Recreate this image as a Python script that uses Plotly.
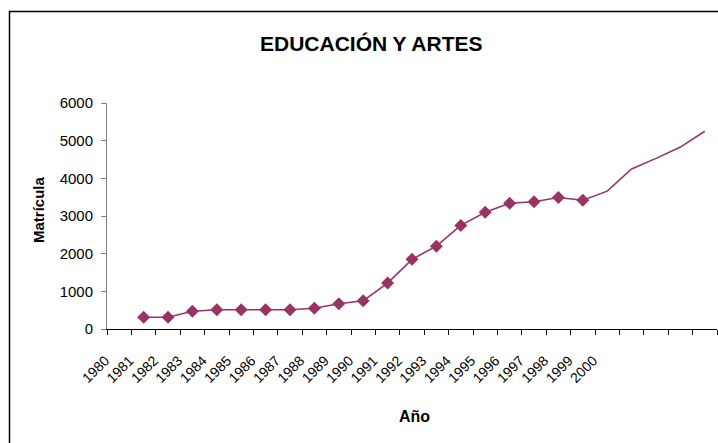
import plotly.graph_objects as go

# Category labels (21 labelled years + 4 unlabelled trailing categories)
year_labels = [str(y) for y in range(1980, 2001)]
extra_labels = [" ", "  ", "   ", "    "]
categories = year_labels + extra_labels

# Matrícula values per category (1980 empty)
matricula = [None, 310, 310, 470, 510, 510, 510, 510, 550, 670, 750, 1220,
             1850, 2200, 2750, 3100, 3340, 3380, 3490, 3420,
             3660, 4250, 4530, 4830, 5250]
marked_count = 20  # categories 1980..1999 carry diamond markers

color = "#993366"
font_family = "Liberation Sans, Arial, sans-serif"

fig = go.Figure()
fig.add_trace(go.Scatter(
    x=categories, y=matricula, mode="lines",
    line=dict(color=color, width=1.6), connectgaps=False,
    hoverinfo="skip", showlegend=False))
fig.add_trace(go.Scatter(
    x=categories[:marked_count], y=matricula[:marked_count], mode="markers",
    marker=dict(symbol="diamond", size=10, color=color),
    showlegend=False))

W, H = 718, 443
L, R, T, B = 107, 1, 103, 114
pw = W - L - R
ph = H - T - B

def px_x(x):
    return (x - L) / pw

def px_y(y):
    return (H - B - y) / ph

fig.update_layout(
    width=W, height=H,
    margin=dict(l=L, r=R, t=T, b=B),
    paper_bgcolor="white", plot_bgcolor="white",
    font=dict(family=font_family, color="black", size=14),
    xaxis=dict(
        type="category", categoryorder="array", categoryarray=categories,
        range=[-0.5, len(categories) - 0.5],
        tickson="boundaries", ticks="outside", ticklen=5, tickcolor="black",
        tickangle=-45, tickfont=dict(size=14),
        ticklabelstandoff=17, ticklabelshift=-14,
        showline=True, linecolor="black", linewidth=1,
        showgrid=False, zeroline=False, fixedrange=True),
    yaxis=dict(
        range=[0, 6000], tickvals=[0, 1000, 2000, 3000, 4000, 5000, 6000],
        ticks="outside", ticklen=5, tickcolor="#808080",
        tickfont=dict(size=15), ticklabelstandoff=5,
        showline=True, linecolor="#808080", linewidth=1,
        showgrid=False, zeroline=False, fixedrange=True),
    annotations=[
        dict(text="<b>EDUCACIÓN Y ARTES</b>", xref="paper", yref="paper",
             x=px_x(371), y=px_y(44), xanchor="center", yanchor="middle",
             showarrow=False, font=dict(size=21)),
        dict(text="<b>Matrícula</b>", xref="paper", yref="paper",
             x=px_x(38), y=px_y(210), xanchor="center", yanchor="middle",
             textangle=-90, showarrow=False, font=dict(size=15)),
        dict(text="<b>Año</b>", xref="paper", yref="paper",
             x=px_x(414), y=px_y(416), xanchor="center", yanchor="middle",
             showarrow=False, font=dict(size=16)),
    ],
    shapes=[
        dict(type="rect", xref="paper", yref="paper",
             x0=px_x(9.5), y0=px_y(470), x1=px_x(740), y1=px_y(11.5),
             line=dict(color="black", width=1.5), layer="below"),
    ],
)

fig.write_html("out.html", config={"displayModeBar": False},
               post_script="document.body.style.margin='0';")
